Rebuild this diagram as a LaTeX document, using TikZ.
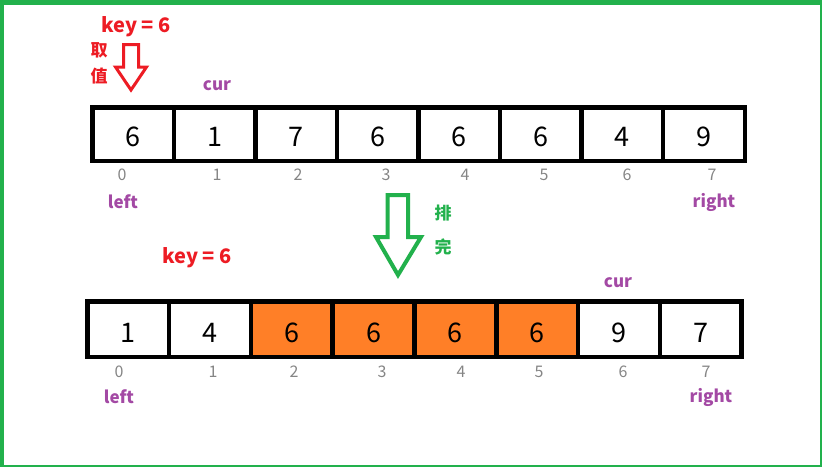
\documentclass[tikz,border=0pt]{standalone}
\usepackage{fontspec}
\setmainfont{Noto Sans CJK SC}
\definecolor{frameg}{HTML}{22B14C}
\definecolor{redk}{HTML}{ED1C24}
\definecolor{purp}{HTML}{A349A4}
\definecolor{idxg}{HTML}{858585}
\definecolor{orng}{HTML}{FF7F27}
\tikzset{
  cellbox/.style={draw=black, line width=4.5pt, inner sep=0pt, outer sep=0pt,
    minimum height=#1, font=\fontsize{27}{27}\selectfont},
  idx/.style={anchor=base, inner sep=0pt, text=idxg, font=\fontsize{16}{16}\selectfont},
  ptr/.style={anchor=base, inner sep=0pt, text=purp, font=\bfseries\fontsize{17}{17}\selectfont},
  keylbl/.style={anchor=base, inner sep=0pt, text=redk, font=\bfseries\fontsize{20}{20}\selectfont},
  cjklbl/.style={anchor=base, inner sep=0pt, font=\bfseries\fontsize{17}{17}\selectfont},
  hollowarrow/.style={line width=#1, line join=miter, fill=white},
}
\begin{document}
\begin{tikzpicture}[x=1pt, y=-1pt]
\useasboundingbox (0,0) rectangle (822,467);
% frame
\fill[frameg] (0,0) rectangle (822,5);
\fill[frameg] (0,0) rectangle (4,467);
\fill[frameg] (820,0) rectangle (822,467);
\fill[frameg] (0,465) rectangle (822,467);

% top array
\foreach \v [count=\i from 0] in {6,1,7,6,6,6,4,9} {
  \node[cellbox=53.5pt, minimum width=81.56pt, fill=white, text depth=0pt, text height=0pt]
    (t\i) at ({92.3+81.56*(\i+0.5)}, 134) {};
  \node[anchor=base, inner sep=0pt, font=\fontsize{27}{27}\selectfont] (tv\i) at ({92.3+81.56*(\i+0.5)}, 146.5) {\v};
}
\foreach \x [count=\i from 0] in {122,217,298,386,465,544,627,712} {
  \node[idx] (ti\i) at (\x,180) {\i};
}
\node[ptr] (tleft) at (123,208) {left};
\node[ptr] (tright) at (714,207) {right};
\node[ptr] (tcur) at (217,90) {cur};
\node[keylbl] (tkey) at (136,32) {key = 6};
\node[cjklbl, text=redk] (qu) at (99,56) {取};
\node[cjklbl, text=redk] (zhi) at (99,82) {值};
\draw[redk, hollowarrow=3pt] (123.5,44.5) -- (138.5,44.5) -- (138.5,67) -- (146.5,67) -- (131,90) -- (115.5,67) -- (123.5,67) -- cycle;

% green arrow
\draw[frameg, hollowarrow=4pt] (387.7,195) -- (408,195) -- (408,237) -- (421,237) -- (398,275) -- (376,237) -- (387.7,237) -- cycle;
\node[cjklbl, text=frameg] (pai) at (443,219) {排};
\node[cjklbl, text=frameg] (wan) at (443,253) {完};
\node[keylbl] (mkey) at (197,263) {key = 6};

% bottom array
\foreach \v/\c [count=\i from 0] in {1/white,4/white,6/orng,6/orng,6/orng,6/orng,9/white,7/white} {
  \node[cellbox=55.5pt, minimum width=81.8pt, fill=\c, text depth=0pt, text height=0pt]
    (b\i) at ({87.3+81.8*(\i+0.5)}, 329) {};
  \node[anchor=base, inner sep=0pt, font=\fontsize{27}{27}\selectfont] (bv\i) at ({87.3+81.8*(\i+0.5)}, 342) {\v};
}
\foreach \x [count=\i from 0] in {119,213,294,382,461,539,623,706} {
  \node[idx] (bi\i) at (\x,377) {\i};
}
\node[ptr] (bleft) at (119,403) {left};
\node[ptr] (bright) at (711,402) {right};
\node[ptr] (bcur) at (618,287) {cur};
\end{tikzpicture}
\end{document}
